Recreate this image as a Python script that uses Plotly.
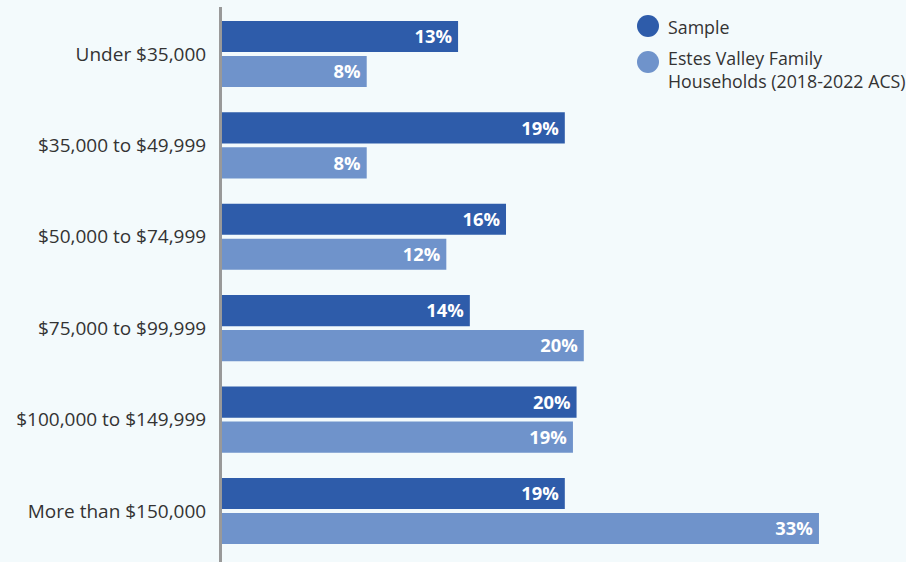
import plotly.graph_objects as go

categories = ["Under $35,000", "$35,000 to $49,999", "$50,000 to $74,999",
              "$75,000 to $99,999", "$100,000 to $149,999", "More than $150,000"]
sample = [13.05, 18.95, 15.7, 13.7, 19.6, 18.95]
acs = [8.0, 8.0, 12.4, 20.0, 19.4, 33.0]
series_names = ["Sample", "Estes Valley Family<br>Households (2018-2022 ACS)"]

DARK = "#2e5caa"
LIGHT = "#6f93cb"
BG = "#f3fafc"
FONT = "Open Sans"

W, H = 906, 562
ML, MR, MT, MB = 222, 0, 7, 0
PW, PH = W - ML - MR, H - MT - MB

def px(x):
    return (x - ML) / PW

def py(y):
    return (H - MB - y) / PH

fig = go.Figure()
for vals, col in [(sample, DARK), (acs, LIGHT)]:
    fig.add_trace(go.Bar(
        y=categories, x=vals, orientation="h", marker=dict(color=col, line=dict(width=0)),
        texttemplate="%{x:.0f}%\u2009", textposition="inside", insidetextanchor="end",
        textfont=dict(family=FONT, size=19, color="white", weight="bold"),
        showlegend=False, hoverinfo="skip", cliponaxis=False,
    ))

shapes = []
annotations = []
for yc, col in [(26, DARK), (62, LIGHT)]:
    shapes.append(dict(type="circle", xref="paper", yref="paper", xsizemode="pixel", ysizemode="pixel",
                       xanchor=px(648), yanchor=py(yc), x0=-11, x1=11, y0=-11, y1=11,
                       fillcolor=col, line=dict(width=0)))
for txt, yc in [(series_names[0], 27), (series_names[1], 70)]:
    annotations.append(dict(text=txt, xref="paper", yref="paper", x=px(666), y=py(yc),
                            xanchor="left", yanchor="middle", align="left", showarrow=False,
                            font=dict(family=FONT, size=17.8, color="#333333")))

fig.update_layout(
    width=W, height=H, margin=dict(l=ML, r=MR, t=MT, b=MB),
    paper_bgcolor=BG, plot_bgcolor=BG,
    barmode="group", bargap=0.234, bargroupgap=0.11,
    font=dict(family=FONT, color="#333333"),
    xaxis=dict(range=[0, PW / 18.09], visible=False, showgrid=False, zeroline=False),
    yaxis=dict(range=[5.558, -0.514], showgrid=False, zeroline=False, showline=True,
               linecolor="#999999", linewidth=3, ticks="", ticklabelstandoff=9,
               tickfont=dict(family=FONT, size=19, color="#333333")),
    shapes=shapes, annotations=annotations,
)
fig.write_html("out.html")
